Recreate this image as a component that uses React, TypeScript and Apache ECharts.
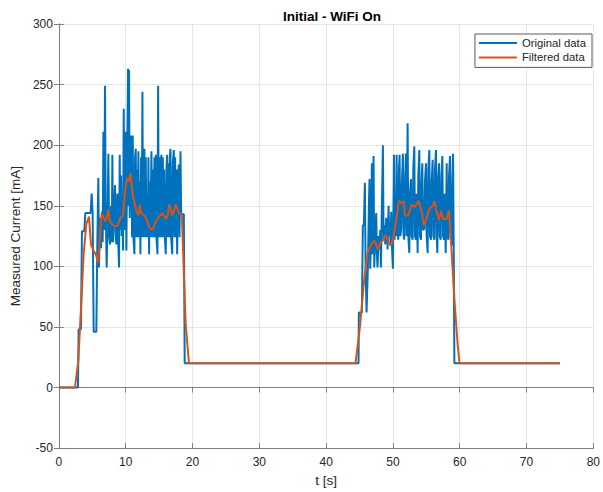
import React, { useEffect, useRef } from "react";
import * as echarts from "echarts";

// Original (raw) measurement: time [s] and current [mA]
const originalTime = [
  0, 2.85, 2.95, 3.3, 3.45, 3.8, 3.95, 4.75, 4.9, 5.05, 5.2, 5.6, 5.75, 5.9, 6.0, 6.15, 6.3, 6.45, 6.55, 6.66,
  6.78, 6.9, 7.0, 7.15, 7.28, 7.4, 7.52, 7.65, 7.8, 7.92, 8.0, 8.1, 8.25, 8.4, 8.5, 8.6, 8.75, 8.85, 9.0, 9.1,
  9.2, 9.3, 9.4, 9.5, 9.6, 9.7, 9.8, 9.9, 10.0, 10.1, 10.2, 10.35, 10.42, 10.5, 10.6, 10.7, 10.85, 10.95, 11.05, 11.15,
  11.3, 11.4, 11.5, 11.6, 11.7, 11.78, 11.9, 12.0, 12.1, 12.2, 12.3, 12.4, 12.5, 12.6, 12.7, 12.8, 12.9, 13.0, 13.1, 13.2,
  13.3, 13.4, 13.5, 13.6, 13.7, 13.85, 13.95, 14.05, 14.15, 14.3, 14.4, 14.5, 14.6, 14.75, 14.85, 14.95, 15.05, 15.15, 15.25, 15.35,
  15.45, 15.55, 15.65, 15.75, 15.85, 16.0, 16.1, 16.2, 16.3, 16.4, 16.5, 16.6, 16.7, 16.8, 16.96, 17.05, 17.2, 17.3, 17.4, 17.5,
  17.6, 17.7, 17.8, 17.95, 18.05, 18.2, 18.3, 18.7, 18.83,
  44.85, 44.9, 45.35, 45.5, 45.65, 45.8, 45.9, 46.05, 46.15, 46.25, 46.4, 46.5, 46.6, 46.75, 46.85, 46.95, 47.1, 47.2, 47.35, 47.5,
  47.6, 47.7, 47.85, 48.0, 48.1, 48.2, 48.35, 48.5, 48.6, 48.75, 48.85, 49.0, 49.1, 49.2, 49.35, 49.45, 49.55, 49.65, 49.75, 49.85,
  50.0, 50.15, 50.25, 50.35, 50.45, 50.55, 50.65, 50.8, 50.9, 51.0, 51.1, 51.25, 51.35, 51.5, 51.6, 51.7, 51.85, 51.95, 52.05, 52.2,
  52.3, 52.45, 52.55, 52.7, 52.8, 52.95, 53.05, 53.2, 53.3, 53.45, 53.55, 53.7, 53.8, 53.95, 54.05, 54.2, 54.3, 54.4, 54.5, 54.7,
  54.8, 54.95, 55.05, 55.2, 55.3, 55.45, 55.55, 55.7, 55.8, 55.95, 56.05, 56.2, 56.3, 56.45, 56.55, 56.65, 56.75, 56.9, 57.0, 57.15,
  57.25, 57.4, 57.5, 57.65, 57.75, 57.9, 58.05, 58.15, 58.3, 58.4, 58.55, 58.65, 58.8, 58.9, 59.0, 59.1, 59.2, 75,
];
const originalCurrent = [
  0, 0, 48, 48, 129, 129, 144, 144, 160, 144, 46, 46, 120, 173, 99, 140, 115, 145, 120, 211,
  130, 249, 150, 99, 140, 193, 125, 118, 150, 120, 192, 120, 145, 167, 125, 118, 160, 125, 99, 192,
  130, 175, 125, 148, 113, 230, 130, 190, 211, 113, 180, 263, 150, 262, 140, 190, 208, 124, 208, 124,
  110, 190, 197, 124, 180, 124, 195, 124, 170, 110, 190, 124, 244, 124, 185, 197, 124, 190, 124, 146,
  124, 190, 110, 170, 124, 195, 124, 180, 124, 190, 124, 192, 124, 110, 249, 124, 190, 124, 185, 192,
  124, 190, 124, 180, 124, 110, 180, 192, 124, 185, 124, 190, 197, 124, 110, 185, 196, 124, 190, 124,
  180, 110, 170, 184, 124, 195, 143, 143, 20,
  20, 62, 62, 134, 134, 169, 103, 62, 62, 98, 150, 172, 98, 130, 185, 110, 191, 99, 125, 144,
  110, 99, 125, 114, 130, 99, 150, 200, 122, 134, 118, 140, 134, 114, 150, 125, 134, 117, 145, 117,
  98, 192, 122, 150, 125, 192, 130, 122, 180, 192, 125, 131, 170, 193, 125, 122, 175, 193, 125, 218,
  125, 111, 160, 172, 125, 122, 180, 199, 125, 122, 160, 111, 175, 196, 125, 122, 170, 185, 130, 131,
  170, 185, 125, 111, 180, 196, 125, 122, 170, 188, 125, 122, 180, 196, 125, 111, 170, 185, 125, 122,
  175, 191, 125, 122, 160, 111, 185, 125, 122, 175, 191, 125, 117, 170, 193, 117, 20, 20,
];

// Filtered data: time [s] and current [mA]
const filteredTime = [
  0, 2.4, 2.9, 3.3, 3.7, 4.1, 4.5, 4.8, 5.1, 5.5, 5.9, 6.15, 6.4, 6.7, 7.0, 7.4, 7.6, 8.1, 8.5, 8.8,
  9.2, 9.6, 9.9, 10.2, 10.5, 10.7, 11.1, 11.6, 11.9, 12.1, 12.3, 12.8, 13.2, 13.5, 14.0, 14.5, 15.0, 15.5, 16.0, 16.3,
  16.5, 17.0, 17.5, 18.0, 18.4, 18.97, 19.45, 19.6,
  44.4, 45.1, 45.7, 46.2, 46.6, 46.8, 47.3, 47.7, 48.1, 48.6, 48.9, 49.3, 49.7, 50.1, 50.6, 50.9, 51.4, 51.6, 51.8, 52.3,
  52.8, 53.3, 53.8, 54.3, 54.6, 55.0, 55.5, 56.0, 56.2, 56.5, 56.9, 57.2, 57.5, 58.0, 58.4, 58.7, 59.2, 59.7, 59.95, 60.2, 75,
];
const filteredCurrent = [
  0, 0, 22, 65, 110, 135, 141, 118, 114, 110, 103, 125, 144, 140, 137, 147, 137, 134, 133, 134,
  140, 142, 162, 173, 170, 177, 157, 146, 142, 151, 144, 142, 138, 132, 130, 137, 141, 144, 139, 142,
  151, 142, 151, 144, 142, 53, 21, 20,
  20, 52, 89, 111, 116, 119, 121, 114, 119, 122, 126, 121, 117, 125, 142, 154, 152, 154, 142, 142,
  151, 149, 154, 146, 134, 139, 148, 150, 154, 146, 138, 146, 139, 139, 146, 120, 73, 35, 21, 20, 20,
];

const xTicks = { min: 0, max: 80, interval: 10 };
const yTicks = { min: -50, max: 300, interval: 50 };

const FONT = "'Liberation Sans', Arial, Helvetica, sans-serif";
const TEXT = "#262626";
const AXIS = "#7f7f7f";

export default function App() {
  const ref = useRef<HTMLDivElement>(null);
  useEffect(() => {
    if (!ref.current) return;
    const chart = echarts.init(ref.current, null, { renderer: "svg" });
    const orig = originalTime.map((t, i) => [t, originalCurrent[i]]);
    const filt = filteredTime.map((t, i) => [t, filteredCurrent[i]]);
    const hiddenAxisCommon = {
      axisLine: { show: true, lineStyle: { color: AXIS, width: 1 } },
      axisTick: { show: true, inside: true, length: 5, lineStyle: { color: AXIS } },
      axisLabel: { show: false },
      splitLine: { show: false },
    };
    chart.setOption({
      animation: false,
      backgroundColor: "#ffffff",
      textStyle: { fontFamily: FONT },
      title: {
        text: "Initial - WiFi On",
        left: 327,
        textAlign: "center",
        top: 4,
        textStyle: { fontFamily: FONT, fontSize: 13.5, fontWeight: "bold", color: "#000" },
      },
      legend: {
        orient: "vertical",
        right: 11,
        top: 34,
        padding: [3, 6, 4, 4],
        itemGap: 2.4,
        itemWidth: 38,
        itemHeight: 2,
        icon: "rect",
        borderColor: "#5a5a5a",
        borderWidth: 1,
        borderRadius: 0,
        backgroundColor: "#ffffff",
        textStyle: { fontFamily: FONT, fontSize: 11.3, color: TEXT, lineHeight: 12 },
        data: ["Original data", "Filtered data"],
      },
      grid: { left: 57, right: 5, top: 24, bottom: 40, containLabel: false },
      xAxis: [
        {
          type: "value",
          min: xTicks.min,
          max: xTicks.max,
          interval: xTicks.interval,
          name: "t [s]",
          nameLocation: "middle",
          nameGap: 22,
          nameTextStyle: { fontFamily: FONT, fontSize: 13.5, color: TEXT },
          axisLine: { show: true, onZero: false, lineStyle: { color: AXIS, width: 1 } },
          axisTick: { show: true, inside: true, length: 5, lineStyle: { color: AXIS } },
          axisLabel: { fontFamily: FONT, fontSize: 12, color: TEXT, margin: 8 },
          splitLine: { show: true, lineStyle: { color: "#e6e6e6", width: 1 } },
        },
        {
          type: "value",
          position: "top",
          min: xTicks.min,
          max: xTicks.max,
          interval: xTicks.interval,
          ...hiddenAxisCommon,
        },
      ],
      yAxis: [
        {
          type: "value",
          min: yTicks.min,
          max: yTicks.max,
          interval: yTicks.interval,
          name: "Measured Current [mA]",
          nameLocation: "middle",
          nameGap: 28,
          nameTextStyle: { fontFamily: FONT, fontSize: 13.5, color: TEXT },
          axisLine: { show: true, onZero: false, lineStyle: { color: AXIS, width: 1 } },
          axisTick: { show: true, inside: true, length: 5, lineStyle: { color: AXIS } },
          axisLabel: { fontFamily: FONT, fontSize: 12, color: TEXT, margin: 6 },
          splitLine: { show: true, lineStyle: { color: "#e6e6e6", width: 1 } },
        },
        {
          type: "value",
          position: "right",
          min: yTicks.min,
          max: yTicks.max,
          interval: yTicks.interval,
          ...hiddenAxisCommon,
        },
      ],
      series: [
        {
          name: "Original data",
          type: "line",
          data: orig,
          showSymbol: false,
          symbol: "none",
          color: "#0072BD",
          lineStyle: { color: "#0072BD", width: 2 },
          z: 2,
        },
        {
          name: "Filtered data",
          type: "line",
          data: filt,
          showSymbol: false,
          symbol: "none",
          color: "#D95319",
          lineStyle: { color: "#D95319", width: 2 },
          z: 3,
        },
      ],
    });
    return () => chart.dispose();
  }, []);
  return (
    <div
      ref={ref}
      style={{ position: "fixed", left: 0, top: 0, width: 603, height: 492, background: "#fff" }}
    />
  );
}
